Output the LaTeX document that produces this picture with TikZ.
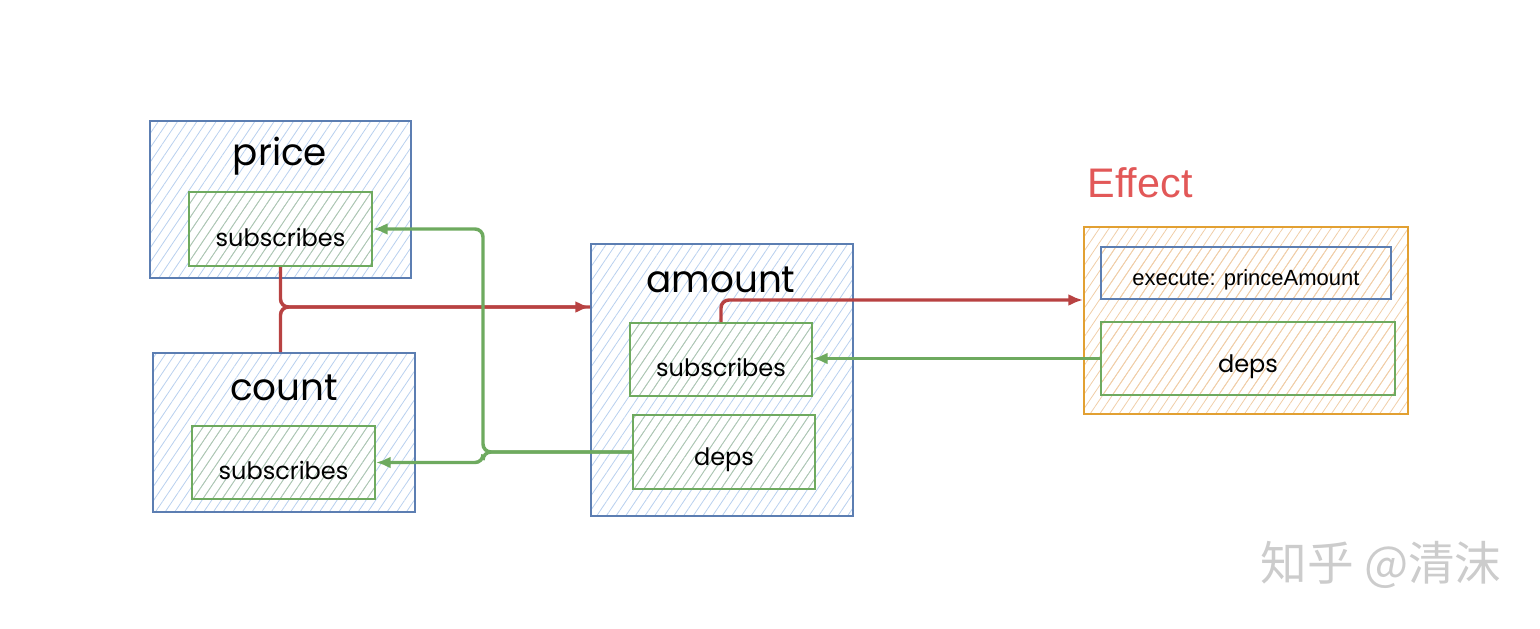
\documentclass[tikz,border=0pt]{standalone}
\usepackage{fontspec}
\setmainfont{Liberation Sans}
\newfontfamily\handfont{Poppins}
\newfontfamily\cjkfont{Noto Sans CJK SC}
\usetikzlibrary{patterns.meta,arrows.meta,fit}

\definecolor{boxblue}{RGB}{92,126,178}
\definecolor{boxgreen}{RGB}{110,170,95}
\definecolor{boxorange}{RGB}{226,160,50}
\definecolor{linered}{RGB}{184,66,66}
\definecolor{effectred}{RGB}{226,88,88}
\definecolor{hatchblue}{RGB}{184,208,238}
\definecolor{hatchgreen}{RGB}{176,200,170}
\definecolor{hatchorange}{RGB}{240,206,168}

\tikzset{every picture/.style={line width=0.75pt}}

\begin{document}
\begin{tikzpicture}[x=0.75pt,y=0.75pt,yscale=-1,xscale=1,
  hatch/.style={pattern={Lines[angle=56,distance=6pt,line width=0.6pt]}},
  outerbox/.style={draw=boxblue, line width=1.5pt, hatch, pattern color=hatchblue, inner sep=0pt},
  innerbox/.style={draw=boxgreen, line width=1.5pt, hatch, pattern color=hatchgreen, inner sep=0pt},
  execbox/.style={draw=boxblue, line width=1.5pt, hatch, pattern color=hatchorange, inner sep=0pt},
  effectbox/.style={draw=boxorange, line width=1.5pt, hatch, pattern color=hatchorange, inner sep=0pt},
  titletext/.style={font=\handfont\fontsize{28}{31}\selectfont, inner sep=0pt},
  fieldtext/.style={font=\handfont\fontsize{18}{21}\selectfont, inner sep=0pt, yshift=-6pt},
  redline/.style={draw=linered, line width=2.6pt, rounded corners=6pt},
  greenline/.style={draw=boxgreen, line width=2.6pt, rounded corners=6pt},
  arrowtip/.style={-{Latex[length=11pt,width=9pt]}}]
\useasboundingbox (0,0) rectangle (1540,628);

% price
\node[outerbox, fit={(150,121) (411,278)}] (price) {};
\node[titletext] (pricelbl) at (280,156) {price};
\node[innerbox, fit={(189,192) (372,266)}] (psub) {};
\node[fieldtext] (psubtxt) at (psub.center) {subscribes};

% count
\node[outerbox, fit={(153,353) (415,512)}] (count) {};
\node[titletext] (countlbl) at (284,388) {count};
\node[innerbox, fit={(192,426) (375,499)}] (csub) {};
\node[fieldtext] (csubtxt) at (csub.center) {subscribes};

% amount
\node[outerbox, fit={(591,244) (853,516)}] (amount) {};
\node[titletext] (amountlbl) at (721,280) {amount};
\node[innerbox, fit={(630,323) (812,396)}] (asub) {};
\node[fieldtext] (asubtxt) at (asub.center) {subscribes};
\node[innerbox, fit={(633,415) (815,489)}] (adeps) {};
\node[fieldtext] (adepstxt) at (adeps.center) {deps};

% Effect
\node[text=effectred, font=\fontsize{31}{35}\selectfont, inner sep=0pt] (effectlbl) at (1140,183) {Effect};
\node[effectbox, fit={(1084,227) (1408,414)}] (effect) {};
\node[execbox, fit={(1101,247) (1391,299)}] (exec) {};
\node[font=\fontsize{16.5}{19}\selectfont, inner sep=0pt, yshift=-5pt] (exectxt) at (exec.center) {execute: princeAmount};
\node[innerbox, pattern color=hatchorange, fit={(1101,322) (1395,395)}] (edeps) {};
\node[fieldtext] (edepstxt) at (edeps.center) {deps};

% watermark
\node[text=black!20, font=\cjkfont\fontsize{35}{38}\selectfont, inner sep=0pt] (zhihu) at (1381,565) {知乎 @清沫};

% red connectors
\coordinate (rj) at (281,307);
\draw[redline] (psub.south) |- (rj -| amount.west);
\draw[redline, arrowtip] (count.north -| psub.south) |- (rj -| amount.west);
\draw[redline, arrowtip] (asub.north) |- (effect.west |- exec.south);

% green connectors
\coordinate (gj) at (483,452);
\draw[greenline, arrowtip] (edeps.west) -- (asub.east |- edeps.west);
\draw[greenline, arrowtip] (adeps.west) -- (gj) |- (psub.east);
\draw[greenline, arrowtip] (adeps.west) -- (gj) |- (csub.east);
\end{tikzpicture}
\end{document}
